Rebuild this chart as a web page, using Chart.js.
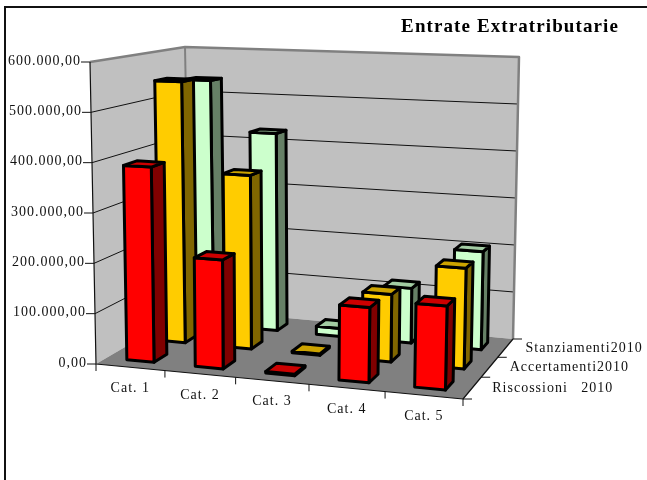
<!DOCTYPE html>
<html>
<head>
<meta charset="utf-8">
<script src="https://cdn.jsdelivr.net/npm/chart.js@4"></script>
<style>
  html, body { margin: 0; padding: 0; background: #fff; }
  #box { position: relative; width: 647px; height: 480px; }
</style>
</head>
<body>
<div id="box"><canvas id="chart"></canvas></div>
<script>
const categories = ["Cat. 1", "Cat. 2", "Cat. 3", "Cat. 4", "Cat. 5"];
const seriesNames = ["Riscossioni   2010", "Accertamenti2010", "Stanziamenti2010"];
const riscossioni = [390000, 215000, 3000, 145000, 160000];
const accertamenti = [545000, 358000, 3000, 136000, 200000];
const stanziamenti = [535000, 426000, 17000, 115000, 203000];
const valueLabels = ["0,00", "100.000,00", "200.000,00", "300.000,00", "400.000,00", "500.000,00", "600.000,00"];

const barShare = 0.4;
const labelFont = '14px "Liberation Serif"';

// box corners on screen: front-left, front-right, back-right, back-left
const floorQuad = [[96, 364], [463, 399], [513, 339], [190, 309]];
const ceilQuad = [[90, 62], [470, 79], [519, 57], [185, 47]];

// unit square -> quad
function squareToQuad(q) {
  const [p0, p1, p2, p3] = q;
  const dx1 = p1[0] - p2[0], dx2 = p3[0] - p2[0], sx = p0[0] - p1[0] + p2[0] - p3[0];
  const dy1 = p1[1] - p2[1], dy2 = p3[1] - p2[1], sy = p0[1] - p1[1] + p2[1] - p3[1];
  const det = dx1 * dy2 - dx2 * dy1;
  const g = (sx * dy2 - dx2 * sy) / det;
  const h = (dx1 * sy - sx * dy1) / det;
  const a = p1[0] - p0[0] + g * p1[0], b = p3[0] - p0[0] + h * p3[0];
  const d = p1[1] - p0[1] + g * p1[1], e = p3[1] - p0[1] + h * p3[1];
  return (u, v) => {
    const w = g * u + h * v + 1;
    return [(a * u + b * v + p0[0]) / w, (d * u + e * v + p0[1]) / w];
  };
}
const floorMap = squareToQuad(floorQuad);

// u along categories, v along series, t along values, all 0..1
// the floor carries the perspective, heights blend between the four corners
function project(u, v, t) {
  u -= 0.017 * Math.sin(Math.PI * u); // categories bunch up a little toward the left
  const f = floorMap(u, v);
  const rise = [0, 1].map(k =>
    (1 - u) * (1 - v) * (ceilQuad[0][k] - floorQuad[0][k]) +
    u * (1 - v) * (ceilQuad[1][k] - floorQuad[1][k]) +
    u * v * (ceilQuad[2][k] - floorQuad[2][k]) +
    (1 - u) * v * (ceilQuad[3][k] - floorQuad[3][k]));
  return [f[0] + rise[0] * t, f[1] + rise[1] * t];
}

function poly(ctx, pts, fill, stroke, width) {
  ctx.beginPath();
  pts.forEach((p, i) => i ? ctx.lineTo(p[0], p[1]) : ctx.moveTo(p[0], p[1]));
  if (fill) {
    ctx.closePath();
    ctx.fillStyle = fill;
    ctx.fill();
  }
  if (stroke) {
    ctx.strokeStyle = stroke;
    ctx.lineWidth = width;
    ctx.lineJoin = "round";
    ctx.stroke();
  }
}

function bandFraction(scale, index) {
  return (scale.getPixelForValue(index) - scale.left) / scale.width;
}

function valueFraction(scale, value) {
  return (scale.bottom - scale.getPixelForValue(value)) / scale.height;
}

// bar controller that draws each bar as a box in the projected space
class Bar3dController extends Chart.BarController {
  draw() {
    const chart = this.chart, ctx = chart.ctx;
    const ds = this.getDataset();
    const cats = chart.scales.x, vals = chart.scales.y, depth = chart.scales.z;
    const halfU = barShare / categories.length / 2;
    const halfV = barShare / seriesNames.length / 2;
    const vc = bandFraction(depth, this.index);
    const v0 = vc - halfV, v1 = vc + halfV;

    ds.data.forEach((value, i) => {
      const uc = bandFraction(cats, i);
      const u0 = uc - halfU, u1 = uc + halfU;
      const t = valueFraction(vals, value);
      const front = [project(u0, v0, 0), project(u1, v0, 0), project(u1, v0, t), project(u0, v0, t)];
      const side = [project(u1, v0, 0), project(u1, v1, 0), project(u1, v1, t), project(u1, v0, t)];
      const top = [project(u0, v0, t), project(u1, v0, t), project(u1, v1, t), project(u0, v1, t)];
      poly(ctx, side, ds.sideColor, "#000", 3);
      poly(ctx, front, ds.backgroundColor, "#000", 3);
      poly(ctx, top, ds.topColor, "#000", 3);
    });
  }
}
Bar3dController.id = "bar3d";
Bar3dController.defaults = Chart.BarController.defaults;
Chart.register(Bar3dController);

const box3d = {
  id: "box3d",
  beforeDraw(chart) {
    const ctx = chart.ctx;
    ctx.letterSpacing = "1.1px";
    // outer frame, runs off the right and bottom of the page
    ctx.save();
    ctx.strokeStyle = "#111";
    ctx.lineWidth = 2;
    ctx.beginPath();
    ctx.moveTo(5, 482);
    ctx.lineTo(5, 7);
    ctx.lineTo(649, 7);
    ctx.stroke();
    ctx.restore();
  },
  beforeDatasetsDraw(chart) {
    const ctx = chart.ctx, vals = chart.scales.y;
    ctx.save();
    // walls and floor
    poly(ctx, [project(0, 0, 0), project(0, 1, 0), project(0, 1, 1), project(0, 0, 1)], "#c0c0c0");
    poly(ctx, [project(0, 1, 0), project(1, 1, 0), project(1, 1, 1), project(0, 1, 1)], "#c0c0c0");
    poly(ctx, [project(0, 0, 0), project(1, 0, 0), project(1, 1, 0), project(0, 1, 0)], "#808080");

    // value gridlines over both walls
    vals.ticks.forEach(tick => {
      const t = valueFraction(vals, tick.value);
      if (t > 0 && t < 1) poly(ctx, [project(0, 0, t), project(0, 1, t), project(1, 1, t)], null, "#111", 1);
    });

    // wall rim
    poly(ctx, [project(0, 0, 1), project(0, 1, 1), project(1, 1, 1), project(1, 1, 0)], null, "#808080", 2.5);
    poly(ctx, [project(0, 1, 0), project(0, 1, 1)], null, "#808080", 2);

    // axis lines
    poly(ctx, [project(0, 0, 1), project(0, 0, 0), project(1, 0, 0), project(1, 1, 0)], null, "#111", 1.2);
    ctx.restore();
  },
  afterDatasetsDraw(chart) {
    const ctx = chart.ctx, vals = chart.scales.y, cats = chart.scales.x, depth = chart.scales.z;
    ctx.save();
    ctx.font = labelFont;
    ctx.letterSpacing = "1px";
    ctx.fillStyle = "#111";

    // value axis ticks and labels
    ctx.textAlign = "right";
    ctx.textBaseline = "middle";
    vals.ticks.forEach(tick => {
      const p = project(0, 0, valueFraction(vals, tick.value));
      poly(ctx, [[p[0] - 9, p[1]], p], null, "#111", 1);
      ctx.fillText(tick.label, p[0] - 9, p[1] - 1);
    });

    // category ticks and labels
    ctx.textAlign = "center";
    for (let i = 0; i <= categories.length; i++) {
      const p = project(i / categories.length, 0, 0);
      poly(ctx, [p, [p[0], p[1] + 7]], null, "#111", 1);
    }
    categories.forEach((name, i) => {
      const p = project(bandFraction(cats, i), 0, 0);
      ctx.fillText(name, p[0], p[1] + 21);
    });

    // series ticks and labels
    ctx.textAlign = "left";
    for (let i = 0; i <= seriesNames.length; i++) {
      const p = project(1, i / seriesNames.length, 0);
      poly(ctx, [p, [p[0] + 9, p[1]]], null, "#111", 1);
    }
    seriesNames.forEach((name, i) => {
      const p = project(1, bandFraction(depth, i), 0);
      ctx.fillText(name, p[0] + 20, p[1]);
    });
    ctx.restore();
  }
};

new Chart(document.getElementById("chart"), {
  type: "bar3d",
  data: {
    labels: categories,
    datasets: [
      { label: seriesNames[0], data: riscossioni, backgroundColor: "#ff0000", sideColor: "#800000", topColor: "#cc0000", clip: false },
      { label: seriesNames[1], data: accertamenti, backgroundColor: "#ffcc00", sideColor: "#806600", topColor: "#cca300", clip: false },
      { label: seriesNames[2], data: stanziamenti, backgroundColor: "#ccffcc", sideColor: "#668066", topColor: "#a3cca3", clip: false }
    ]
  },
  options: {
    responsive: true,
    maintainAspectRatio: false,
    animation: false,
    layout: { padding: { right: 28 } },
    plugins: {
      legend: { display: false },
      tooltip: { enabled: false },
      title: {
        display: true,
        text: "Entrate Extratributarie",
        align: "end",
        color: "#000",
        font: { family: '"Liberation Serif"', size: 19, weight: "bold" },
        padding: { top: 16, bottom: 8 }
      }
    },
    scales: {
      x: { type: "category", display: false },
      y: {
        type: "linear",
        display: false,
        min: 0,
        max: 600000,
        ticks: { stepSize: 100000, callback: (v, i) => valueLabels[i] }
      },
      z: { type: "category", axis: "x", position: "bottom", labels: seriesNames, display: false }
    }
  },
  plugins: [box3d]
});
</script>
</body>
</html>
